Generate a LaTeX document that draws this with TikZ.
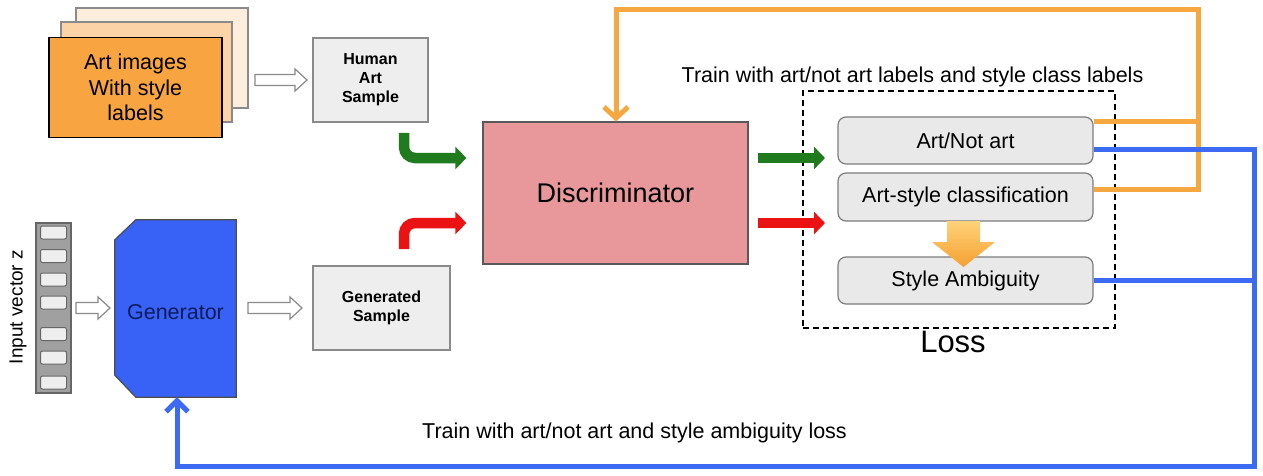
\documentclass[tikz,border=0pt]{standalone}
\usepackage{fontspec}
\setmainfont{Liberation Sans}
\usetikzlibrary{arrows.meta}
\definecolor{pageA}{HTML}{FDEDDC}
\definecolor{pageB}{HTML}{FBD3A6}
\definecolor{pageC}{HTML}{F7A441}
\definecolor{boxgray}{HTML}{EEEEEE}
\definecolor{boxline}{HTML}{8A8A8A}
\definecolor{discfill}{HTML}{E8989A}
\definecolor{genfill}{HTML}{3862F5}
\definecolor{gentext}{HTML}{0D1C5C}
\definecolor{orangeline}{HTML}{F6A840}
\definecolor{blueline}{HTML}{3D6AF2}
\definecolor{greenarr}{HTML}{207A1E}
\definecolor{redarr}{HTML}{EA1212}
\definecolor{lossfill}{HTML}{E9E9E9}
\definecolor{vecfill}{HTML}{A0A0A0}
\definecolor{gradtop}{HTML}{FFD27A}
\definecolor{gradbot}{HTML}{F5A030}
\tikzset{
  sz/.style 2 args={minimum width=#1, minimum height=#2, inner sep=0pt},
  pagebox/.style={draw=boxline, line width=1.2pt},
  graybox/.style={draw=boxline, fill=boxgray, line width=1.2pt, font=\bfseries\fontsize{16}{19}\selectfont, align=center},
  lossbox/.style={draw=boxline!90!black, fill=lossfill, line width=1.2pt, rounded corners=8pt, font=\fontsize{21.5}{25}\selectfont},
  hollow/.style={draw=boxline, fill=white, line width=1.2pt, line join=miter},
  slot/.style={draw=black!60, fill=boxgray, line width=1pt, rounded corners=2pt},
  orangeconn/.style={draw=orangeline, line width=5pt, line join=miter},
  blueconn/.style={draw=blueline, line width=5pt, line join=miter},
  fatarrow/.style={line width=10.5pt, rounded corners=11pt, -{Triangle[length=11pt,width=22pt]}},
  txt/.style={font=\fontsize{21.5}{25}\selectfont, inner sep=0pt}
}
\newcommand\hollowarr[3]{\draw[hollow] (#1,#2) ++(0,-5.5) -- ++(#3-12,0) -- ++(0,-5.5) -- ++(12,11) -- ++(-12,11) -- ++(0,-5.5) -- ++(-#3+12,0) -- cycle;}
\begin{document}
\begin{tikzpicture}[x=1pt,y=-1pt]
\path[use as bounding box, fill=white] (0,0) rectangle (1263,476);

% stacked art pages
\node[pagebox, fill=pageA, sz={172pt}{100pt}] (pageback) at (162,58) {};
\node[pagebox, fill=pageB, sz={171pt}{100pt}] (pagemid) at (146.5,72) {};
\node[draw=black, line width=1.8pt, fill=pageC, sz={173pt}{100pt}, align=center, font=\fontsize{21.5}{25.5}\selectfont] (art) at (135.5,87.5) {Art images\\With style\\labels};

% human sample
\node[graybox, sz={115pt}{84pt}] (human) at (370.5,80) {Human\\Art\\Sample};
\hollowarr{255}{80}{52}

% input vector
\node[draw=black!60, fill=vecfill, line width=1.2pt, sz={35pt}{170pt}] (vec) at (53.5,308) {};
\foreach \yy in {232.5,256,279.5,302.5,334,357.5,382.5}{
  \draw[slot] (40.5,\yy-6.5) rectangle (66.5,\yy+6.5);
}
\node[txt, font=\fontsize{19}{22}\selectfont, rotate=90] (vlabel) at (18,307) {Input vector z};
\hollowarr{76}{308}{34}

% generator
\node[sz={121pt}{177pt}] (gen) at (175.5,308.5) {};
\filldraw[draw=black!70, fill=genfill, line width=1.2pt, line join=miter]
  ([xshift=21pt]gen.north west) -- (gen.north east) -- (gen.south east)
  -- ([xshift=21pt]gen.south west) -- ([yshift=22pt]gen.south west)
  -- ([yshift=-20pt]gen.north west) -- cycle;
\node[txt, text=gentext] (gentxt) at (175.5,312) {Generator};
\hollowarr{248}{308}{54}

% generated sample
\node[graybox, sz={137pt}{84pt}] (gsample) at (381.5,308) {Generated\\Sample};

% discriminator
\node[draw=black!65, fill=discfill, line width=1.2pt, sz={265pt}{142pt}, font=\fontsize{27}{30}\selectfont] (disc) at (615.5,193) {Discriminator};

% green / red bent arrows into discriminator
\coordinate (gstart) at (404,133);
\coordinate (rstart) at (404,249);
\draw[fatarrow, draw=greenarr, shorten >=16pt] (gstart) |- ([yshift=35pt]disc.west);
\draw[fatarrow, draw=redarr, shorten >=16pt] (rstart) |- ([yshift=-30pt]disc.west);

% loss region
\node[draw=black, line width=1.3pt, dash pattern=on 6pt off 4pt, sz={312pt}{237pt}] (lossregion) at (959,209.5) {};
\node[lossbox, sz={255pt}{47pt}] (artnot) at (965.5,140.5) {Art/Not art};
\node[lossbox, sz={255pt}{48pt}] (artstyle) at (965.5,197) {Art-style classification};
\node[lossbox, sz={255pt}{47pt}] (ambig) at (965.5,280.5) {Style Ambiguity};
\shade[top color=gradtop, bottom color=gradbot, draw=none]
  (947,221) -- (980,221) -- (980,242) -- (995,242) -- (963.5,267) -- (932,242) -- (947,242) -- cycle;
\node[txt, font=\fontsize{31}{34}\selectfont] (losslabel) at (953,342) {Loss};

% outputs of discriminator
\coordinate (gout) at (825,158);
\coordinate (rout) at (825,223);
\draw[line width=10.5pt, draw=greenarr, -{Triangle[length=11pt,width=22pt]}] ([xshift=9pt,yshift=35pt]disc.east) -- (gout);
\draw[line width=10.5pt, draw=redarr, -{Triangle[length=11pt,width=22pt]}] ([xshift=9pt,yshift=-30pt]disc.east) -- (rout);

% texts
\node[txt, anchor=base] (t1) at (912.5,83) {Train with art/not art labels and style class labels};
\node[txt, anchor=base] (t2) at (634.5,438) {Train with art/not art and style ambiguity loss};

% orange feedback
\coordinate (oR) at (1198,10);
\coordinate (oL) at (616,10);
\draw[orangeconn] ([yshift=18.5pt]artnot.east) -- (1198,122);
\draw[orangeconn, -{Straight Barb[length=11pt,width=24pt]}] ([yshift=8pt]artstyle.east) -- (1198,189) -- (oR) -- (oL) -- (disc.north -| oL);

% blue feedback
\coordinate (bR) at (1254,466);
\coordinate (bL) at (177,466);
\draw[blueconn] (ambig.east) -- (1254,280.5);
\draw[blueconn, -{Straight Barb[length=11pt,width=22pt]}] ([yshift=-8.5pt]artnot.east) -- (1254,149) -- (bR) -- (bL) -- (gen.south -| bL);
\end{tikzpicture}
\end{document}
